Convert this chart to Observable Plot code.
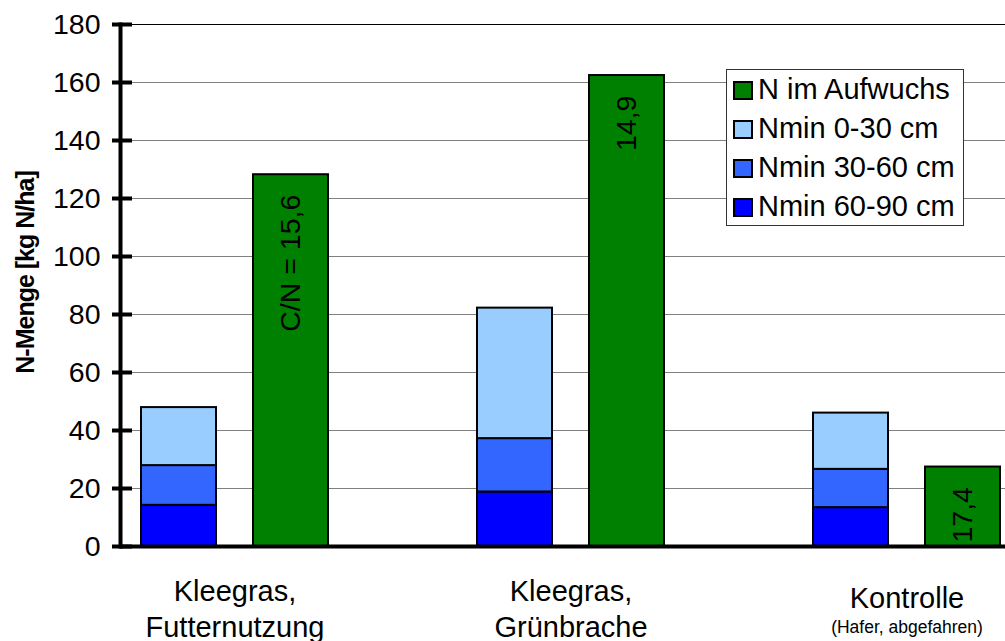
<!DOCTYPE html>
<html><head><meta charset="utf-8">
<script src="https://cdn.jsdelivr.net/npm/d3@7"></script>
<script src="https://cdn.jsdelivr.net/npm/@observablehq/plot@0.6"></script>
<style>
body{margin:0;background:#fff;font-family:"Liberation Sans",Arial,sans-serif}
#wrap{position:relative;width:1005px;height:641px;overflow:hidden}
#legend{position:absolute;left:726px;top:69px;width:238px;height:157px;box-sizing:border-box;border:1px solid #333;background:#fff;padding:0 0 0 6px}
.row{display:flex;height:39px;align-items:flex-start}
.sw{width:20px;height:19px;box-sizing:border-box;border:2px solid #000;margin-top:11px;margin-right:5px;flex:none}
.lab{font-size:29px;line-height:39px;color:#000;white-space:nowrap}
</style></head><body><div id="wrap"></div>
<script>
const categories = ["Kleegras, Futternutzung", "Kleegras, Grünbrache", "Kontrolle"];
const labelMain = ["Kleegras,\nFutternutzung", "Kleegras,\nGrünbrache", "Kontrolle"];
const labelSub = ["", "", "(Hafer, abgefahren)"];
const nmin60_90 = [14.2, 18.8, 13.4];
const nmin30_60 = [13.7, 18.4, 13.2];
const nmin0_30 = [20.0, 45.0, 19.4];
const nAufwuchs = [128.2, 162.4, 27.4];
const cnLabels = ["C/N = 15,6", "14,9", "17,4"];
const seriesNames = ["N im Aufwuchs", "Nmin 0-30 cm", "Nmin 30-60 cm", "Nmin 60-90 cm"];
const seriesColors = ["#008000", "#99CCFF", "#3366FF", "#0000FF"];
const yTicks = [0, 20, 40, 60, 80, 100, 120, 140, 160, 180];
const yTitle = "N-Menge [kg N/ha]";

const slots = categories.flatMap((c, i) =>
  i < categories.length - 1 ? [c + "|Nmin", c + "|Auf", c + "|gap"] : [c + "|Nmin", c + "|Auf"]);

const stackData = categories.flatMap((c, i) => [
  {slot: c + "|Nmin", series: seriesNames[3], value: nmin60_90[i]},
  {slot: c + "|Nmin", series: seriesNames[2], value: nmin30_60[i]},
  {slot: c + "|Nmin", series: seriesNames[1], value: nmin0_30[i]}
]);
const aufData = categories.map((c, i) => ({slot: c + "|Auf", series: seriesNames[0], value: nAufwuchs[i], label: cnLabels[i]}));
const catData = categories.map((c, i) => ({slot: c + "|Auf", main: labelMain[i], sub: labelSub[i]}));

const chart = Plot.plot({
  width: 1005, height: 641,
  marginTop: 24, marginBottom: 95, marginLeft: 120, marginRight: 0,
  style: {fontFamily: "'Liberation Sans', Arial, sans-serif", background: "white", color: "#000"},
  x: {domain: slots, range: [122, 1020], paddingInner: 0.33, paddingOuter: 0.165, axis: null},
  y: {domain: [0, 180], range: [546, 24], axis: null},
  color: {domain: seriesNames, range: seriesColors},
  marks: [
    Plot.gridY(yTicks.filter(t => t > 0 && t < 180), {stroke: "#808080", strokeOpacity: 1, strokeWidth: 1}),
    Plot.ruleY([180], {stroke: "#000", strokeWidth: 1}),
    Plot.barY(stackData, {x: "slot", y: "value", fill: "series", stroke: "#000", strokeWidth: 2}),
    Plot.barY(aufData, {x: "slot", y: "value", fill: "series", stroke: "#000", strokeWidth: 2}),
    Plot.text(aufData, {x: "slot", y: "value", text: "label", rotate: -90, textAnchor: "end", lineAnchor: "middle", dy: 20, fontSize: 28.5, fill: "#000"}),
    Plot.frame({anchor: "left", stroke: "#000", strokeWidth: 4}),
    Plot.ruleY([0], {stroke: "#000", strokeWidth: 4}),
    Plot.axisY(yTicks, {tickSize: 20, dx: 12, tickFormat: () => "", strokeWidth: 4, stroke: "#000", label: null}),
    Plot.axisY(yTicks, {tickSize: 0, tickPadding: 20, fontSize: 28.5, fill: "#000", label: null}),
    Plot.text([yTitle], {frameAnchor: "left", textAnchor: "middle", rotate: -90, dx: -95, dy: -13, fontWeight: "bold", fontSize: 25, lineAnchor: "middle", fill: "#000"}),
    Plot.text(catData.filter(d => !d.sub), {x: "slot", text: "main", frameAnchor: "bottom", lineAnchor: "top", dy: 30, dx: -56, fontSize: 29, lineHeight: 1.21, fill: "#000"}),
    Plot.text(catData.filter(d => d.sub), {x: "slot", text: "main", frameAnchor: "bottom", lineAnchor: "top", dy: 41, dx: -56, fontSize: 29, fill: "#000"}),
    Plot.text(catData.filter(d => d.sub), {x: "slot", text: "sub", frameAnchor: "bottom", lineAnchor: "top", dy: 74, dx: -56, fontSize: 17.5, fill: "#000"})
  ]
});

d3.select(chart).selectAll("text").filter(function() { return this.textContent === yTitle; })
  .style("letter-spacing", "-1px");

const wrap = document.getElementById("wrap");
wrap.appendChild(chart);
const legend = document.createElement("div");
legend.id = "legend";
seriesNames.forEach((n, i) => {
  const row = document.createElement("div");
  row.className = "row";
  const sw = document.createElement("div");
  sw.className = "sw";
  sw.style.background = seriesColors[i];
  const lab = document.createElement("div");
  lab.className = "lab";
  lab.textContent = n;
  row.appendChild(sw); row.appendChild(lab);
  legend.appendChild(row);
});
wrap.appendChild(legend);
</script></body></html>
